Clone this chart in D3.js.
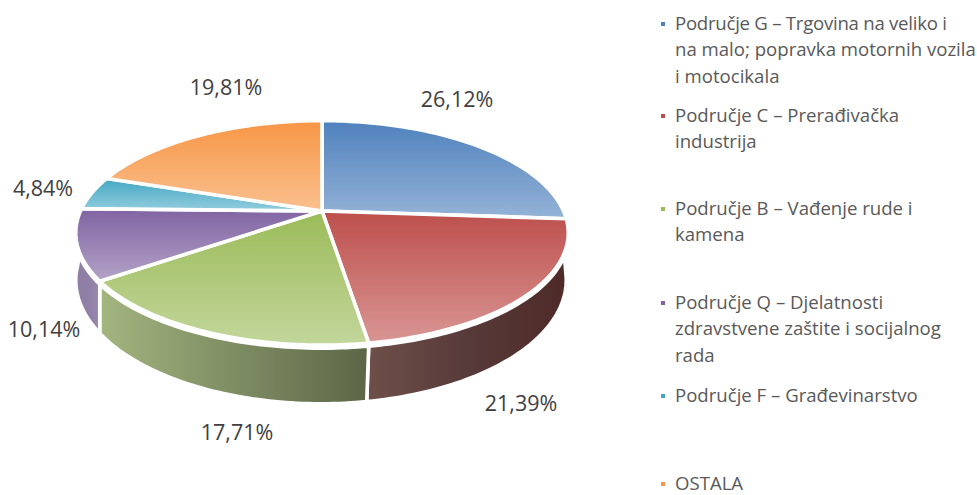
<!DOCTYPE html>
<html><head><meta charset="utf-8">
<script src="https://cdn.jsdelivr.net/npm/d3@7"></script>
<style>html,body{margin:0;padding:0;background:#fff}svg{display:block}</style>
</head><body><svg id="c" width="977" height="495"></svg>
<script>
const categories=["Područje G – Trgovina na veliko i|na malo; popravka motornih vozila|i motocikala","Područje C – Prerađivačka|industrija","Područje B – Vađenje rude i|kamena","Područje Q – Djelatnosti|zdravstvene zaštite i socijalnog|rada","Područje F – Građevinarstvo","OSTALA"];
const values=[26.12,21.39,17.71,10.14,4.84,19.81];
const valueLabels=["26,12%","21,39%","17,71%","10,14%","4,84%","19,81%"];
const topColors=["#4f81bd","#bd4f4c","#9bbb59","#8064a2","#43a7c4","#f79646"];
const bottomColors=["#95b3d7","#d99694","#c3d69b","#b3a2c7","#93cddd","#fac08f"];
const wallLeft=["#000","#6e4f49","#a3b57f","#8f7ea6","#000","#000"];
const wallMid=["#000","#573a3a","#7f8d63","#8f7ea6","#000","#000"];
const wallRight=["#000","#4e2a27","#5c6647","#9a89ae","#000","#000"];

const labelX=[457,521,237,44,43,226], labelY=[99,403,432,329,188,87];
const legendY=[23,115,208,302,395,483];
const cx=322,cy=211,Rx=241.5,Ry=108,k=0.195,depth=45,Ry2=119,gap=3.6;
const sx=d3.scaleLinear().domain([-1,1]).range([-Rx,Rx]);
const sy=d3.scaleLinear().domain([-1,1]).range([-Ry,Ry]);
const sy2=d3.scaleLinear().domain([-1,1]).range([-Ry2,Ry2]);
const top_=a=>{const u=Math.sin(a),v=-Math.cos(a),w=1-k*v;return [cx+sx(u)/w,cy+sy(v)/w]};
const low=a=>{const u=Math.sin(a),v=-Math.cos(a),w=1-k*v;return [cx+sx(u)/w-(u>0?2:0),cy+depth+sy2(v)/w]};
const line=d3.line();
const pie=d3.pie().sort(null)(values);
const samples=(a0,a1)=>d3.range(0,61).map(i=>a0+(a1-a0)*i/60);
const svg=d3.select("#c");
const defs=svg.append("defs");
pie.forEach((p,i)=>{
  const g=defs.append("linearGradient").attr("id","t"+i).attr("x1",0).attr("y1",0).attr("x2",0).attr("y2",1);
  g.append("stop").attr("offset",0).attr("stop-color",topColors[i]);
  g.append("stop").attr("offset",1).attr("stop-color",bottomColors[i]);
  const w=defs.append("linearGradient").attr("id","w"+i).attr("x1",0).attr("y1",0).attr("x2",1).attr("y2",0);
  w.append("stop").attr("offset",0).attr("stop-color",wallLeft[i]);
  w.append("stop").attr("offset",0.5).attr("stop-color",wallMid[i]);
  w.append("stop").attr("offset",1).attr("stop-color",wallRight[i]);
});
const rad=d=>d*Math.PI/180;
const wallRanges={1:[[rad(111),pie[1].endAngle],[rad(100),pie[1].endAngle]],
                  2:[[pie[2].startAngle,pie[2].endAngle],[pie[2].startAngle,pie[2].endAngle]],
                  3:[[pie[3].startAngle,rad(249)],[pie[3].startAngle,rad(262)]]};
Object.keys(wallRanges).forEach(i=>{
  const [a,b]=wallRanges[i];
  const pts=samples(a[0],a[1]).map(top_).map(([x,y])=>[x,y+3])
    .concat(samples(b[0],b[1]).reverse().map(low));
  svg.append("path").attr("d",line(pts)+"Z").attr("fill",`url(#w${i})`)
    .attr("stroke","#fff").attr("stroke-width",gap).attr("stroke-linejoin","miter");
});
pie.forEach((p,i)=>{
  const pts=[[cx,cy]].concat(samples(p.startAngle,p.endAngle).map(top_));
  svg.append("path").attr("d",line(pts)+"Z").attr("fill",`url(#t${i})`)
    .attr("stroke","#fff").attr("stroke-width",gap).attr("stroke-linejoin","round");
});
const font="'Open Sans', sans-serif";
valueLabels.forEach((t,i)=>{
  svg.append("text").attr("x",labelX[i]).attr("y",labelY[i]).attr("dy","0.35em").attr("text-anchor","middle")
    .attr("font-family",font).attr("font-size",21.5).attr("fill","#404040").text(t);
});
categories.forEach((c,i)=>{
  svg.append("rect").attr("x",661).attr("y",legendY[i]-1).attr("width",4).attr("height",4).attr("fill",topColors[i]);
  c.split("|").forEach((l,j)=>{
    svg.append("text").attr("x",675).attr("y",legendY[i]+j*26.5).attr("dy","0.35em")
      .attr("font-family",font).attr("font-size",18.6).attr("fill","#595959")
      .attr("letter-spacing",(i===0&&j===0)?-0.25:null).text(l);
  });
});
</script></body></html>
